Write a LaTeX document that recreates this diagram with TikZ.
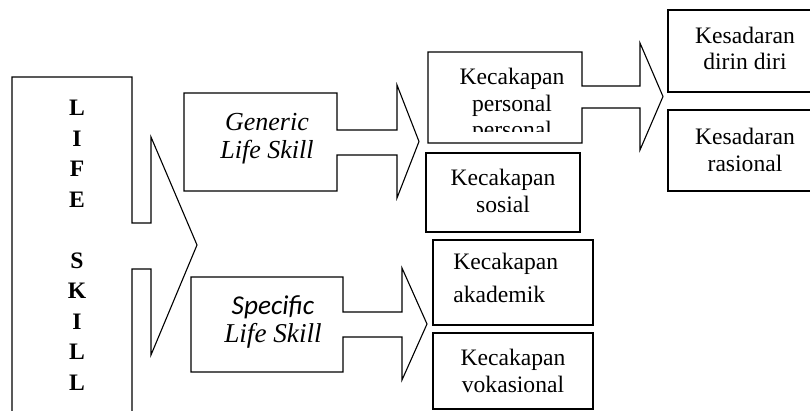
\documentclass[tikz,border=0pt]{standalone}
\usepackage{fontspec}
\setmainfont{Liberation Serif}
\newfontfamily\carlito{Carlito}
\begin{document}
\begin{tikzpicture}[x=0.5pt,y=-0.5pt,
  outl/.style={draw=black,line width=0.55pt,line join=miter},
  txt/.style={align=center,inner sep=0pt,font=\fontsize{11.8}{13.3}\selectfont},
  itxt/.style={align=center,inner sep=0pt,font=\fontsize{13}{14}\selectfont\itshape},
  lettr/.style={align=center,inner sep=0pt,font=\fontsize{11.8}{15.25}\selectfont\bfseries}]
\useasboundingbox (0,0) rectangle (810,411);
\clip (0,0) rectangle (810,411);
% LIFE SKILL box with block arrow
\draw[outl] (12,415) -- (12,77) -- (132,77) -- (132,223) -- (151,223) -- (151,137)
  -- (197,245) -- (151,355) -- (151,269) -- (132,269) -- (132,415);
\node[lettr] (life) at (77,245.5) {L\\I\\F\\E\\[15.25pt]S\\K\\I\\L\\L};
% Generic
\draw[outl] (337,130) -- (337,93) -- (184,93) -- (184,191) -- (337,191) -- (337,155)
  -- (397,155) -- (397,198) -- (419,141.5) -- (397,85) -- (397,130) -- cycle;
\node[itxt] (generic) at (267,139) {Generic\\Life Skill};
% Specific
\draw[outl] (343,312) -- (343,277) -- (191,277) -- (191,372) -- (343,372) -- (343,337)
  -- (402,337) -- (402,380) -- (427,324) -- (402,268) -- (402,312) -- cycle;
\node[itxt,font=\fontsize{13.6}{14.2}\selectfont\itshape] (specific) at (273,322) {{\carlito Specific}\\Life Skill};
% Kecakapan personal
\draw[outl] (582,86) -- (582,52) -- (428,52) -- (428,143) -- (582,143) -- (582,108)
  -- (640,108) -- (640,150) -- (663,96.5) -- (640,43) -- (640,86) -- cycle;
\begin{scope}
\clip (429,53) rectangle (581,132);
\node[txt] (personal) at (512,105.5) {Kecakapan\\personal\\personal};
\end{scope}
% Kesadaran boxes
\draw[outl] (820,10) -- (668,10) -- (668,92) -- (820,92);
\node[txt] (diri) at (745,48.5) {Kesadaran\\dirin diri};
\draw[outl] (820,110) -- (668,110) -- (668,191) -- (820,191);
\node[txt] (rasional) at (745,150) {Kesadaran\\rasional};
% Kecakapan sosial
\draw[outl] (426,153) rectangle (580,232);
\node[txt] (sosial) at (503,191) {Kecakapan\\sosial};
% akademik
\draw[draw=black,line width=1pt] (433,240) rectangle (593,325);
\node[txt,align=left,anchor=west,font=\fontsize{11.8}{16.5}\selectfont] (akademik) at (453,278) {Kecakapan\\akademik};
% vokasional
\draw[outl] (433,333) rectangle (593,409);
\node[txt] (vokasional) at (513,371) {Kecakapan\\vokasional};
\end{tikzpicture}
\end{document}
